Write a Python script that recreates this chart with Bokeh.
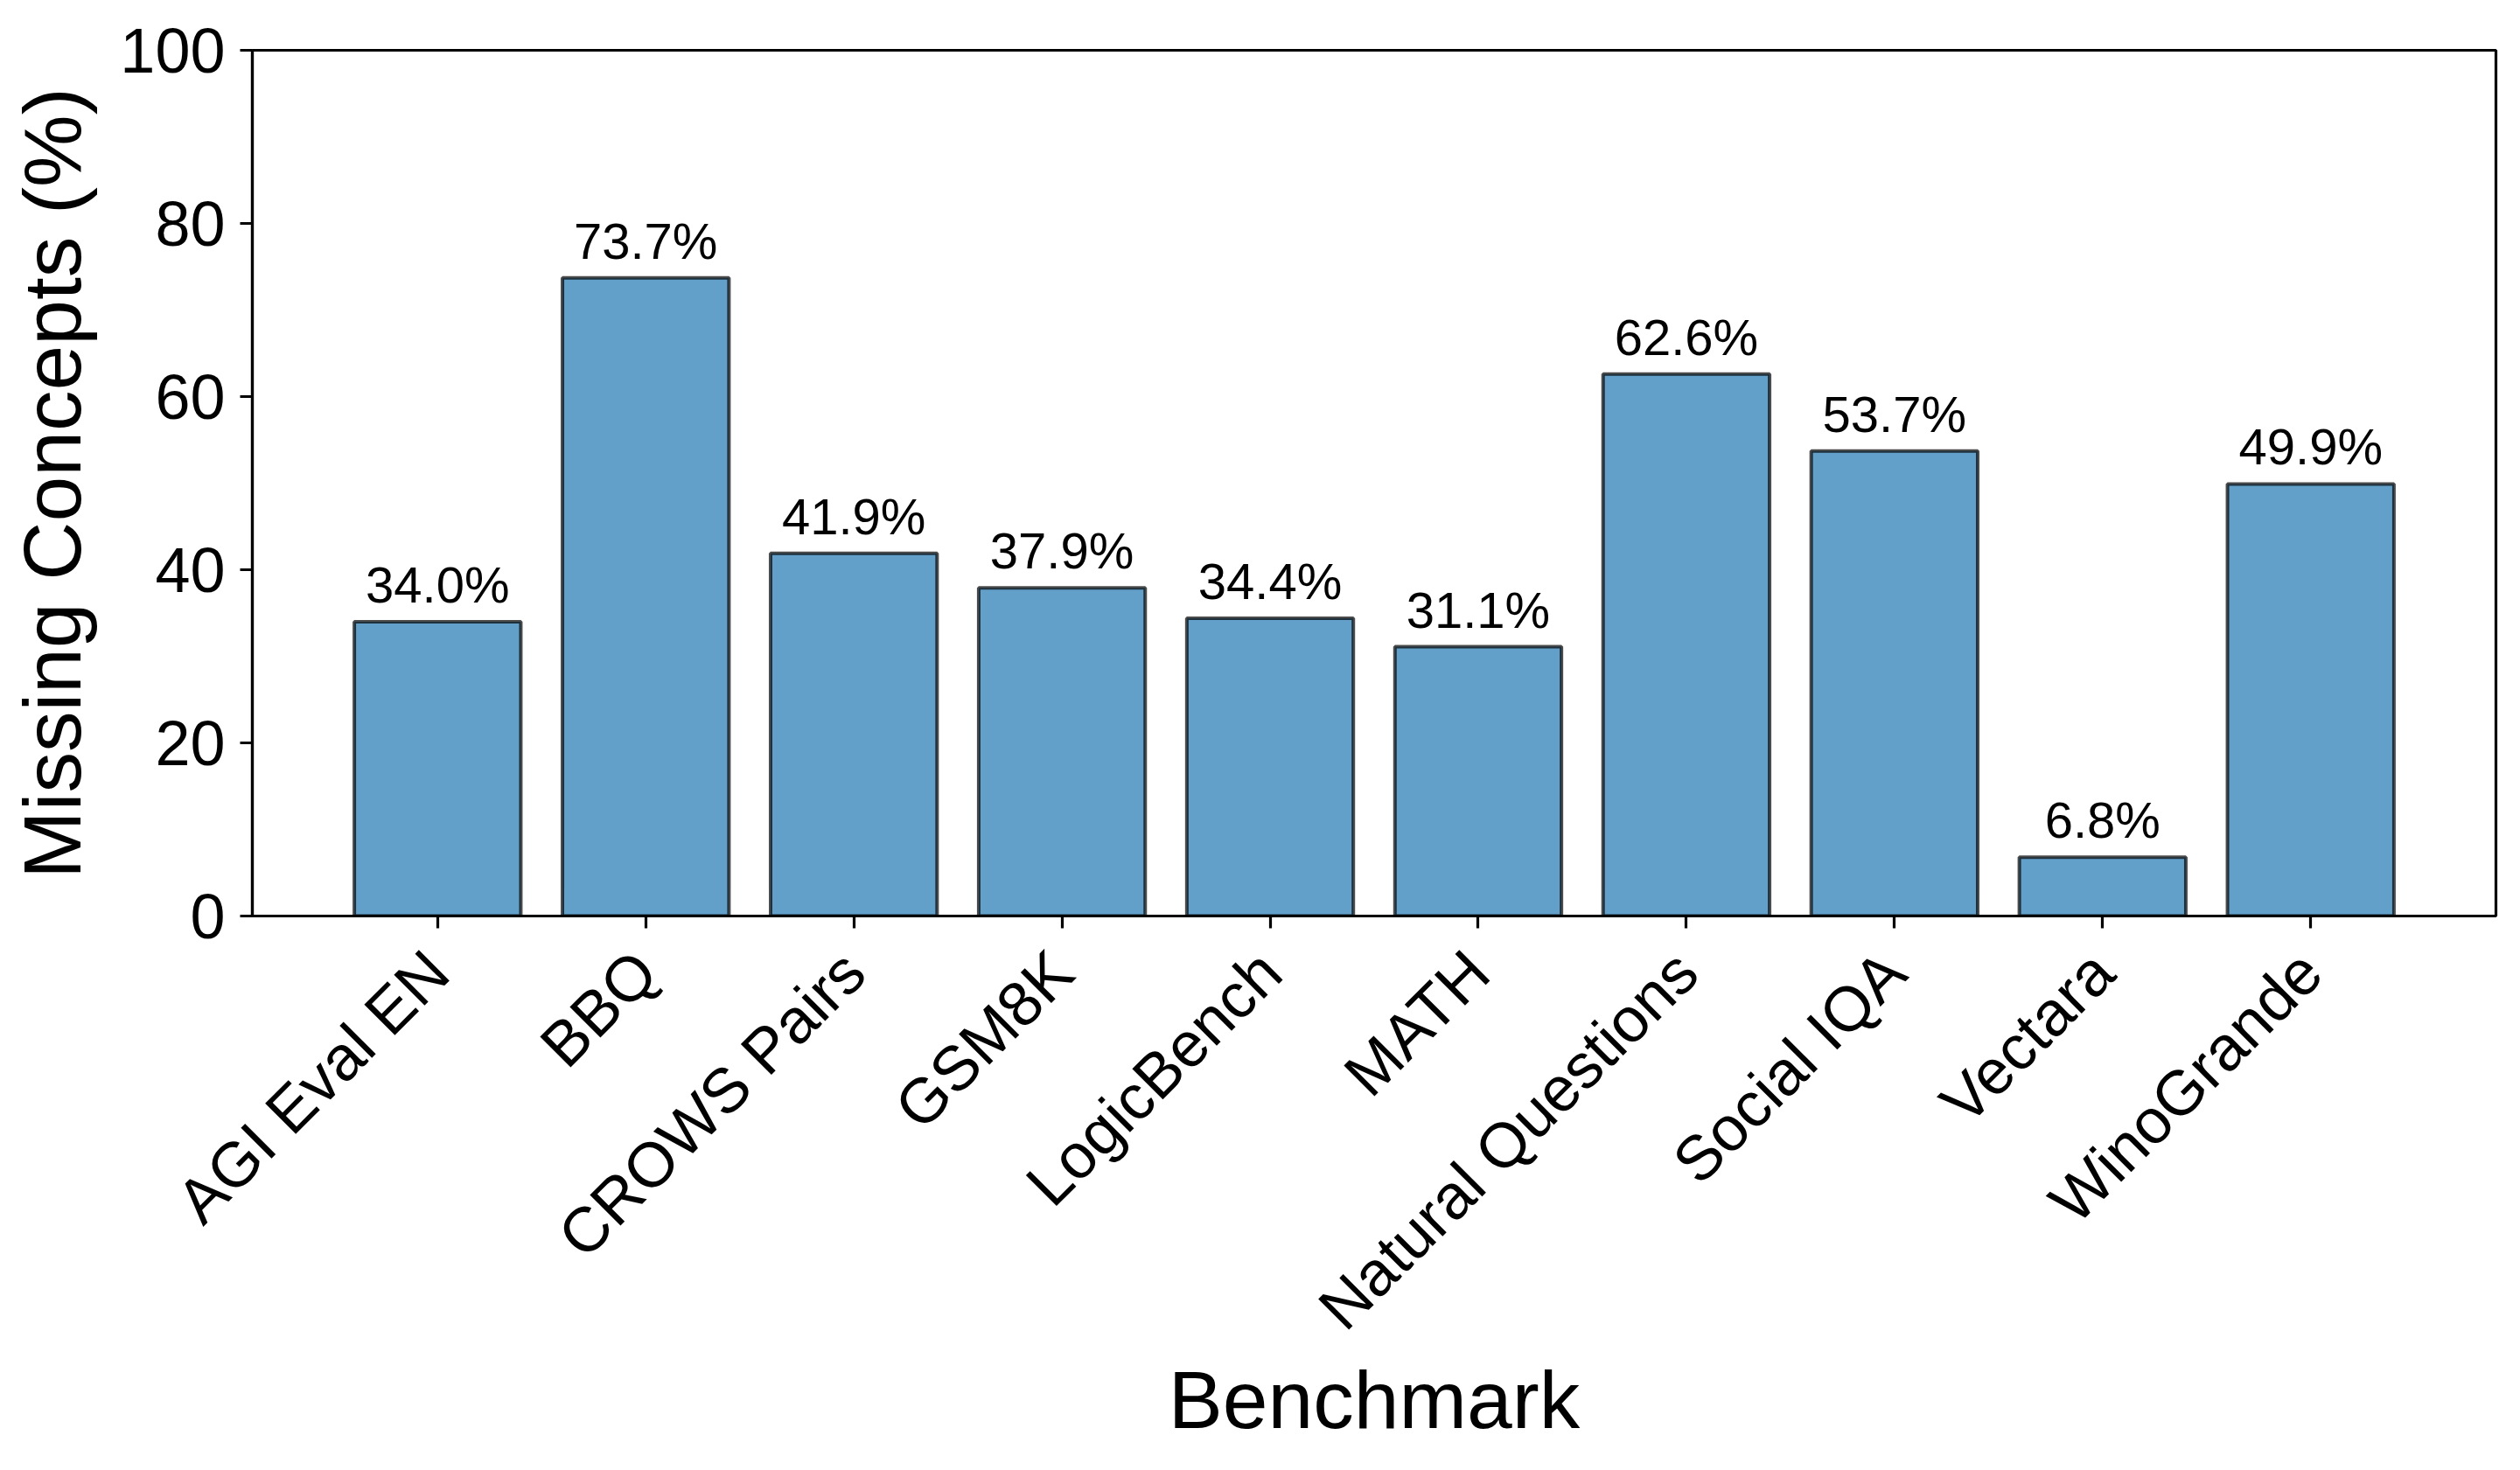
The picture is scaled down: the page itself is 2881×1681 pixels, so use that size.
from bokeh.plotting import figure
from bokeh.models import FixedTicker, Range1d, ColumnDataSource, LabelSet
from bokeh.core.properties import value
from bokeh.embed import file_html
from bokeh.resources import INLINE
import math

benchmarks = ["AGI Eval EN", "BBQ", "CROWS Pairs", "GSM8K", "LogicBench",
              "MATH", "Natural Questions", "Social IQA", "Vectara", "WinoGrande"]
missing = [34.0, 73.7, 41.9, 37.9, 34.4, 31.1, 62.6, 53.7, 6.8, 49.9]
y_ticks = [0, 20, 40, 60, 80, 100]

pos = list(range(len(benchmarks)))
src = ColumnDataSource(data=dict(
    x=pos,
    top=missing,
    label=["%.1f%%" % v for v in missing],
))

FONT = "Liberation Sans"

p = figure(width=2873, height=1673, output_backend="svg", toolbar_location=None,
           x_range=Range1d(-0.89, len(benchmarks) - 1 + 0.89), y_range=Range1d(0, 100))
p.min_border_left = 288
p.min_border_right = 20
p.min_border_top = 57
p.min_border_bottom = 626

p.vbar(x="x", top="top", width=0.8, source=src,
       fill_color="#1f77b4", fill_alpha=0.7,
       line_color="black", line_alpha=0.7, line_width=4)

# value labels above the bars
labels = LabelSet(x="x", y="top", text="label", source=src,
                  text_align="center", text_baseline="alphabetic", y_offset=22,
                  text_font=value(FONT), text_font_size="58px", text_color="black")
p.add_layout(labels)

p.xgrid.grid_line_color = None
p.ygrid.grid_line_color = None
p.outline_line_color = "black"
p.outline_line_width = 3.2
p.outline_line_alpha = 1.0

p.xaxis.ticker = FixedTicker(ticks=pos)
p.xaxis.major_label_overrides = {i: name for i, name in enumerate(benchmarks)}
p.xaxis.major_label_orientation = math.pi / 4
p.yaxis.ticker = FixedTicker(ticks=y_ticks)

for ax in (p.xaxis[0], p.yaxis[0]):
    ax.axis_line_width = 3.2
    ax.axis_line_color = "black"
    ax.major_tick_line_width = 3.2
    ax.major_tick_line_color = "black"
    ax.major_tick_out = 14
    ax.major_tick_in = 0
    ax.minor_tick_line_color = None
    ax.major_label_text_font = FONT
    ax.major_label_text_font_size = "72px"
    ax.major_label_text_color = "black"
    ax.axis_label_text_font = FONT
    ax.axis_label_text_font_size = "93px"
    ax.axis_label_text_font_style = "normal"
    ax.axis_label_text_color = "black"

p.xaxis.axis_label = "Benchmark"
p.yaxis.axis_label = "Missing Concepts (%)"
p.xaxis.major_label_standoff = 38
p.yaxis.major_label_standoff = 17
p.xaxis.axis_label_standoff = -18
p.yaxis.axis_label_standoff = 22

open("out.html", "w").write(file_html(p, INLINE))
